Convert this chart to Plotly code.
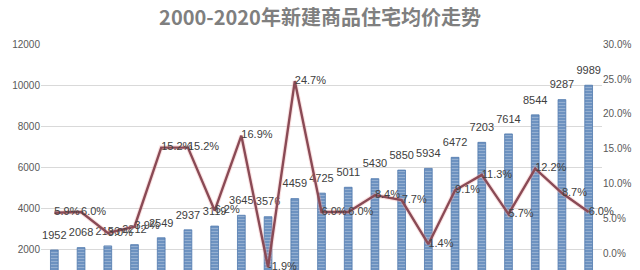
import plotly.graph_objects as go

years = [str(y) for y in range(2000, 2021)]
prices = [1952, 2068, 2150, 2212, 2549, 2937, 3119, 3645, 3576, 4459, 4725,
          5011, 5430, 5850, 5934, 6472, 7203, 7614, 8544, 9287, 9989]
growth_pct = [5.9, 6.0, 3.0, 3.9, 15.2, 15.2, 6.2, 16.9, -1.9, 24.7, 6.0,
              6.0, 8.4, 7.7, 1.4, 9.1, 11.3, 5.7, 12.2, 8.7, 6.0]
left_ticks = [2000, 4000, 6000, 8000, 10000, 12000]
right_ticks = [0, 0.05, 0.10, 0.15, 0.20, 0.25, 0.30]

growth = [g / 100 for g in growth_pct]
growth_labels = [f"{g:.1f}%" for g in growth_pct]
bar_labels = [str(p) for p in prices]

FONT = "Liberation Sans"
fig = go.Figure()

fig.add_trace(go.Bar(
    x=years, y=prices, width=0.29,
    marker=dict(color="#6d92c0",
                line=dict(color="#4f78ad", width=0.8),
                pattern=dict(shape="-", fgcolor="#c3d3e8", size=3,
                             solidity=0.3, fillmode="overlay")),
    showlegend=False,
))
# bar value labels, lifted a little above the bar tops
fig.add_trace(go.Scatter(
    x=years, y=prices, mode="markers+text",
    marker=dict(size=12, color="rgba(0,0,0,0)"),
    text=bar_labels, textposition="top center",
    textfont=dict(family=FONT, size=11, color="#404040"),
    cliponaxis=False, hoverinfo="skip", showlegend=False,
))

# soft glow under the line
fig.add_trace(go.Scatter(
    x=years, y=growth, yaxis="y2", mode="lines",
    line=dict(color="rgba(240,170,170,0.35)", width=4.5),
    hoverinfo="skip", showlegend=False,
))
fig.add_trace(go.Scatter(
    x=years, y=growth, yaxis="y2", mode="lines+text",
    line=dict(color="#8a4a55", width=2.4),
    text=growth_labels, textposition="middle right",
    textfont=dict(family=FONT, size=11, color="#404040"),
    cliponaxis=False, showlegend=False,
))

fig.update_layout(
    width=640, height=270,
    margin=dict(l=41, r=38, t=44, b=0),
    paper_bgcolor="white", plot_bgcolor="white",
    title=dict(text="<b>2000-2020年新建商品住宅均价走势</b>",
               x=0.5, xanchor="center", y=1 - 18 / 270, yanchor="middle",
               yref="container",
               font=dict(family="Noto Sans CJK SC", size=20, color="#7f7f7f")),
    xaxis=dict(range=[-0.5, 20.5], showticklabels=False, showgrid=False,
               showline=False, ticks="", zeroline=False),
    yaxis=dict(range=[976, 12000], tickvals=left_ticks, tickformat="d",
               showgrid=True, gridcolor="#d9d9d9", gridwidth=1,
               zeroline=False, showline=False, automargin=False,
               tickfont=dict(family=FONT, size=10, color="#595959")),
    yaxis2=dict(range=[-0.0229, 0.30], tickvals=right_ticks, tickformat=".1%",
                overlaying="y", side="right", showgrid=False, zeroline=False,
                showline=False, automargin=False,
                tickfont=dict(family=FONT, size=10, color="#595959")),
)

fig.write_html("out.html")
